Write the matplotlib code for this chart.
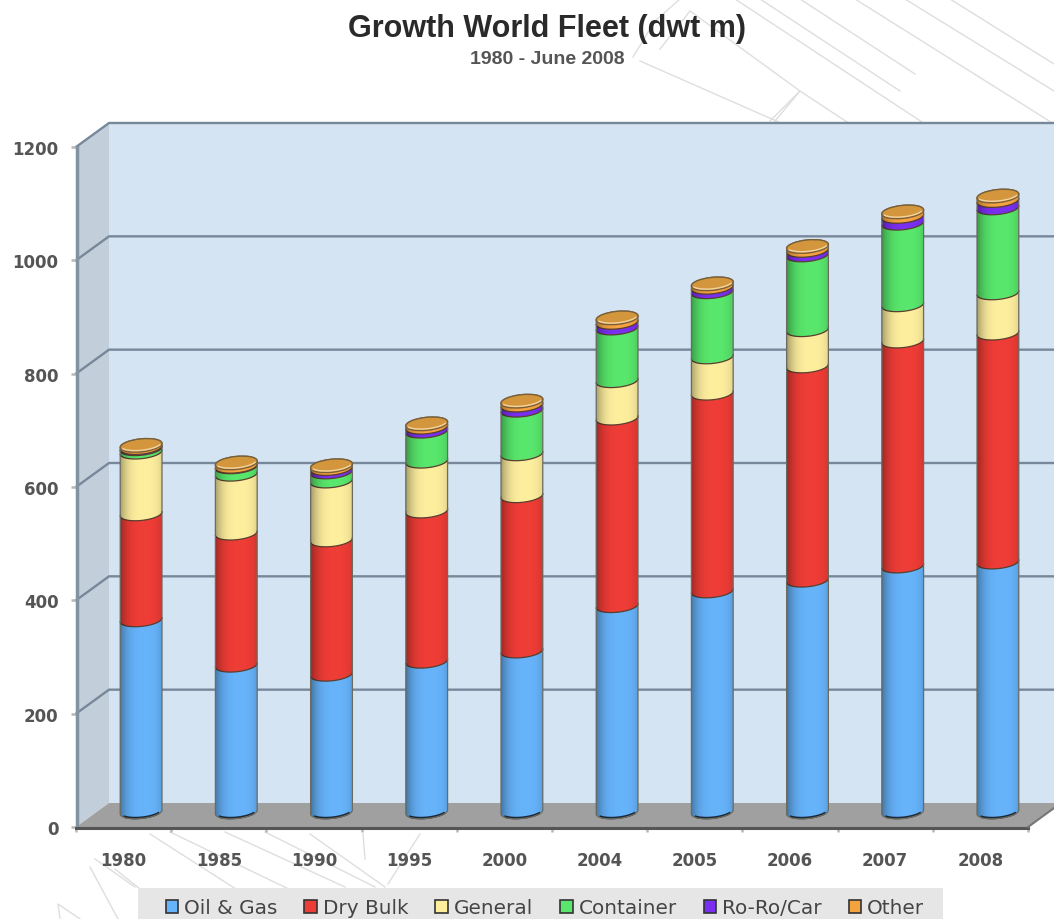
import numpy as np
import matplotlib
matplotlib.use("Agg")
import matplotlib.pyplot as plt
from matplotlib.lines import Line2D
from matplotlib.patches import Ellipse, PathPatch, Polygon, Rectangle
from matplotlib.path import Path
from matplotlib.transforms import Affine2D, IdentityTransform

years = ["1980", "1985", "1990", "1995", "2000", "2004", "2005", "2006", "2007", "2008"]
y_ticks = [0, 200, 400, 600, 800, 1000, 1200]
title = "Growth World Fleet (dwt m)"
subtitle = "1980 - June 2008"

series_names = ["Oil & Gas", "Dry Bulk", "General", "Container", "Ro-Ro/Car", "Other"]
oil_gas = [339, 259, 243, 266, 284, 364, 390, 409, 434, 441]
dry_bulk = [187, 233, 237, 265, 274, 331, 349, 378, 397, 404]
general = [109, 104, 104, 88, 74, 66, 64, 64, 64, 71]
container = [6, 13, 16, 53, 77, 93, 115, 132, 144, 150]
ro_ro_car = [2, 1, 6, 7, 9, 10, 8, 8, 12, 13]
other = [4, 6, 5, 6, 7, 8, 6, 7, 8, 8]
series_colors = ["#66b3fa", "#ee3c36", "#fdee9e", "#58e66c", "#7a2ef0", "#f5a33f"]

W, H = 1054, 920
fig = plt.figure(figsize=(W / 100, H / 100), dpi=100, facecolor="white")
ax = fig.add_axes([76 / W, (H - 828) / H, (1028 - 76) / W, (828 - 148) / H], zorder=2)
ax.set_xlim(-0.5, 9.5)
ax.set_ylim(0, 1200)
ax.autoscale(False)
ax.patch.set_visible(False)
for sp in ax.spines.values():
    sp.set_visible(False)

PX = IdentityTransform()
BACK = np.array([33.0, 24.0])    # shift of the rear wall behind the front plane
MID = np.array([17.5, 15.0])     # shift of the column plane behind the front plane
mid_tf = ax.transData + Affine2D().translate(*MID)


def to_px(x, v, shift=(0.0, 0.0)):
    return ax.transData.transform((x, v)) + np.asarray(shift)


# faint line-art watermark behind the chart
watermark = [
    [(633, 58), (655, 22), (680, 0)], [(640, 62), (790, 128)], [(660, 50), (690, 12), (800, 92), (770, 128)],
    [(735, 0), (925, 125)], [(760, 0), (900, 92)], [(800, 0), (915, 75)], [(855, 0), (1054, 125)],
    [(905, 0), (1054, 92)], [(950, 0), (1054, 65)], [(770, 122), (800, 92), (850, 125)],
    [(150, 835), (275, 915)], [(170, 833), (320, 905)], [(225, 833), (345, 888)], [(265, 833), (375, 888)],
    [(310, 835), (385, 888)], [(95, 860), (135, 888)], [(90, 868), (118, 920)], [(115, 870), (140, 890)],
    [(60, 920), (58, 905), (80, 920)], [(363, 835), (365, 860)], [(420, 835), (388, 885)],
]
for pts in watermark:
    xs, ys = zip(*pts)
    fig.add_artist(Line2D(np.array(xs) / W, 1 - np.array(ys) / H, color="#dedede", lw=1.0, zorder=0))

# legend strip along the bottom edge
fig.add_artist(Rectangle((138 / W, 0), 805 / W, 31 / H, fc="#e6e6e6", ec="none", zorder=1))

# rear wall, side wall and floor of the chart box
xl, xr = -0.5, 9.5
ax.add_patch(Polygon([to_px(xl, 0, BACK), to_px(xr, 0, BACK), to_px(xr, 1200, BACK), to_px(xl, 1200, BACK)],
                     transform=PX, fc="#d5e4f3", ec="none", zorder=1, clip_on=False))
ax.add_patch(Polygon([to_px(xl, 0), to_px(xl, 0, BACK), to_px(xl, 1200, BACK), to_px(xl, 1200)],
                     transform=PX, fc="#c3cedb", ec="none", zorder=1.1, clip_on=False))
ax.add_patch(Polygon([to_px(xl, 0), to_px(xr, 0), to_px(xr, 0, BACK), to_px(xl, 0, BACK)],
                     transform=PX, fc="#a0a0a0", ec="none", zorder=1.2, clip_on=False))
for v in y_ticks:
    a, b, c = to_px(xl, v), to_px(xl, v, BACK), to_px(xr, v, BACK)
    if v > 0:
        ax.plot([a[0], b[0], c[0]], [a[1], b[1], c[1]], transform=PX, color="#77889a", lw=1.7,
                zorder=1.5, clip_on=False)
a, b = to_px(xl, 0), to_px(xl, 1200)
ax.plot([a[0] + 1, b[0] + 1], [a[1], b[1]], transform=PX, color="#82929f", lw=2.5, zorder=1.6, clip_on=False)
a, b = to_px(xl, 0), to_px(xr, 0)
ax.plot([a[0], b[0]], [a[1] - 1, b[1] - 1], transform=PX, color="#555555", lw=2.2, zorder=1.6, clip_on=False)
a, b = to_px(xr, 0), to_px(xr, 0, BACK)
ax.plot([a[0], b[0]], [a[1], b[1]], transform=PX, color="#777777", lw=1.5, zorder=1.6, clip_on=False)

# stacked cylinders
positions = np.arange(len(years))
stack = np.array([oil_gas, dry_bulk, general, container, ro_ro_car, other], dtype=float)
bar_w = 42 / (ax.transData.transform((1, 0))[0] - ax.transData.transform((0, 0))[0])
RX, RY, TILT = 21.0, 6.5, np.deg2rad(6)


def rim(center, t):
    ex, ey = RX * np.cos(t), RY * np.sin(t)
    return np.column_stack([center[0] + ex * np.cos(TILT) - ey * np.sin(TILT),
                            center[1] + ex * np.sin(TILT) + ey * np.cos(TILT)])


front_t = np.linspace(np.pi, 2 * np.pi, 40)
back_t = np.linspace(0, np.pi, 40)
handles = []
base = np.zeros(len(years))
for k, (name, col, vals) in enumerate(zip(series_names, series_colors, stack)):
    z = 3 + k * 0.1
    ax.bar(positions, vals, bar_w, bottom=base, color=col, label=name, transform=mid_tf,
           zorder=z, clip_on=False, linewidth=0)
    handles.append(Rectangle((0, 0), 1, 1, fc=col, ec="#333333", lw=1.2))
    for i in positions:
        c = to_px(i, base[i], MID)
        ax.add_patch(Ellipse(c, 2 * RX, 2 * RY, angle=np.rad2deg(TILT), transform=PX, fc=col, ec="none",
                             zorder=z, clip_on=False))
        # the floor contact shadow stays inside the column, joints run edge to edge
        arc = rim(c, front_t) if k else rim(c + np.array([0, 0.8]), front_t[8:-8])
        ax.plot(arc[:, 0], arc[:, 1], transform=PX, color="#5a4030" if k else "#1c2a3a",
                lw=0.9 if k else 1.8, zorder=z + 0.05, clip_on=False)
    base = base + vals

# horizontal cylinder shading, clipped to each column outline
u = np.linspace(0, 1, 64)
shade = np.zeros((1, 64, 4))
edge = (np.abs(u - 0.58) / 0.58) ** 3
shade[0, :, 3] = 0.42 * edge
for i in positions:
    bottom = to_px(i, 0, MID)
    top = to_px(i, base[i], MID)
    outline = np.vstack([rim(bottom, front_t), rim(top, back_t), rim(bottom, front_t)[:1]])
    clip = Path(outline, closed=True)
    im = ax.imshow(shade, extent=(i - bar_w / 2 - 0.02, i + bar_w / 2 + 0.02, -40, base[i] + 40), aspect="auto",
                   transform=mid_tf, zorder=4, interpolation="bilinear")
    im.set_clip_path(clip, PX)
    ax.add_patch(PathPatch(clip, transform=PX, fill=False, ec="#6a6a60", lw=0.9, zorder=4.1, clip_on=False))
    # lid of the column
    ax.add_patch(Ellipse(top, 2 * RX, 2 * RY, angle=np.rad2deg(TILT), transform=PX, fc="#d3963c", ec="#7a6038",
                         lw=1.0, zorder=4.2, clip_on=False))
    pale = rim(top + np.array([0, 1.6]), front_t[6:-6])
    ax.plot(pale[:, 0], pale[:, 1], transform=PX, color="#f2d3a0", lw=1.0, zorder=4.3, clip_on=False)

# axes, tick marks and labels
ax.set_yticks(y_ticks)
ax.set_yticklabels([str(v) for v in y_ticks], fontsize=12, fontweight="bold", color="#555555")
for lab in ax.get_yticklabels():
    lab.set_transform(lab.get_transform() + Affine2D().translate(0, -3))
ax.set_xticks(np.arange(-0.5, 10, 1))
ax.set_xticklabels([])
ax.set_xticks(positions, minor=True)
ax.set_xticklabels(years, minor=True, fontsize=12, fontweight="bold", color="#555555")
ax.tick_params(axis="both", which="major", length=3.6, width=1.8, color="#b8b8b8")
ax.tick_params(axis="y", pad=9)
ax.tick_params(axis="x", which="minor", length=0, pad=17)
ax.set_xlim(-0.5, 9.5)
ax.set_ylim(0, 1200)

fig.text(547 / W, 1 - 29 / H, title, ha="center", va="center", family="Liberation Sans", fontsize=22,
         fontweight="bold", color="#2a2a2a")
fig.text(547 / W, 1 - 60 / H, subtitle, ha="center", va="center", family="Liberation Sans", fontsize=14,
         fontweight="bold", color="#555555")

leg = fig.legend(handles, series_names, loc="center", bbox_to_anchor=(545 / W, 11 / H), ncol=6, frameon=False,
                 fontsize=14.4, handlelength=0.62, handleheight=0.62, handletextpad=0.3, columnspacing=1.35,
                 borderpad=0, labelcolor="#444444")
leg.set_zorder(3)

fig.savefig("out.png", dpi=100)
